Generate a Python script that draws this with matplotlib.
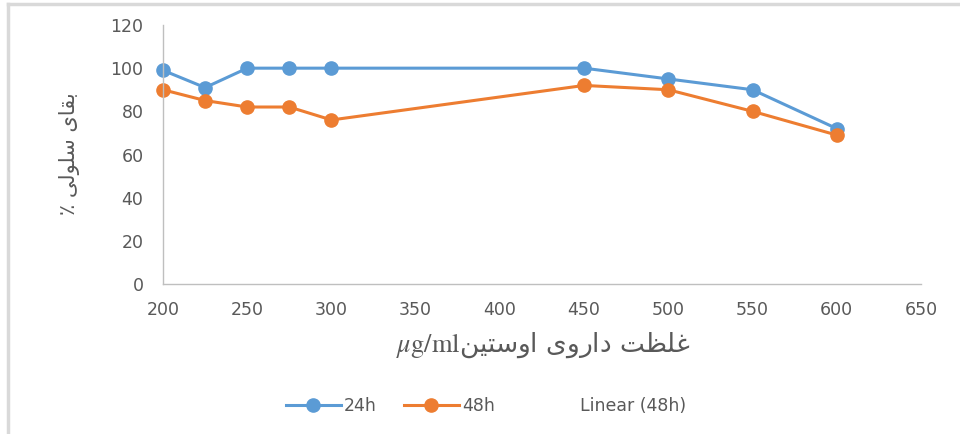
import matplotlib.pyplot as plt
from matplotlib.lines import Line2D

# concentration (ug/ml) and cell viability (%)
dose = [200, 225, 250, 275, 300, 450, 500, 550, 600]
viab_24h = [99, 91, 100, 100, 100, 100, 95, 90, 72]
viab_48h = [90, 85, 82, 82, 76, 92, 90, 80, 69]

x_ticks = [200, 250, 300, 350, 400, 450, 500, 550, 600, 650]
y_ticks = [0, 20, 40, 60, 80, 100, 120]

# persian labels, pre-shaped (presentation forms, visual order)
# "بقای سلولی ٪"
y_label = '\u066A ' + '\uFEF0\uFEDF\uFEEE\uFEE0\uFEB3' + ' ' + '\uFEEF\uFE8E\uFED8\uFE91'
# "غلظت داروی اوستین"
x_label_fa = ('\uFEE6\uFEF4\uFE98\uFEB3\uFEED\uFE8D' + ' ' +
              '\uFEEF\uFEED\uFEAD\uFE8D\uFEA9' + ' ' +
              '\uFE96\uFEC8\uFEE0\uFECF')

blue = '#5B9BD5'
orange = '#ED7D31'
grey_txt = '#595959'

plt.rcParams['font.family'] = ['DejaVu Sans']
plt.rcParams['mathtext.fontset'] = 'stix'

fig = plt.figure(figsize=(9.6, 4.34), dpi=100)
ax = fig.add_axes([163 / 960, 1 - 284 / 434, (921 - 163) / 960, (284 - 25) / 434])

ax.plot(dose, viab_24h, color=blue, lw=2.2, marker='o', ms=9.5, label='24h', clip_on=False)
ax.plot(dose, viab_48h, color=orange, lw=2.2, marker='o', ms=9.5, label='48h', clip_on=False)

ax.set_xlim(200, 650)
ax.set_ylim(0, 120)
ax.set_xticks(x_ticks)
ax.set_yticks(y_ticks)
ax.tick_params(axis='x', length=0, labelsize=12.5, labelcolor=grey_txt, pad=12)
ax.tick_params(axis='y', length=0, labelsize=12.5, labelcolor=grey_txt, pad=14)

for s in ['top', 'right']:
    ax.spines[s].set_visible(False)
for s in ['left', 'bottom']:
    ax.spines[s].set_color('#bfbfbf')
    ax.spines[s].set_linewidth(1.0)

fig.text(70 / 960, 1 - 154 / 434, y_label, rotation=90, ha='center', va='center',
         fontsize=15, color=grey_txt)
fig.text(543 / 960, 1 - 345 / 434, r'$\mathit{\mu}\mathrm{g/ml}$' + x_label_fa,
         ha='center', va='center', fontsize=19, color=grey_txt)

# legend: trendline entry has no visible line
handles = [Line2D([], [], color=blue, lw=2.2, marker='o', ms=9.5),
           Line2D([], [], color=orange, lw=2.2, marker='o', ms=9.5),
           Line2D([], [], color='none')]
leg = fig.legend(handles, ['24h', '48h', 'Linear (48h)'], loc='center',
                 bbox_to_anchor=(486 / 960, 1 - 406 / 434), ncol=3, frameon=False,
                 handlelength=3.15, columnspacing=1.55, handletextpad=0.2,
                 prop={'size': 12.5})
for t in leg.get_texts():
    t.set_color(grey_txt)

# chart border (top and left only)
fig.add_artist(Line2D([8 / 960, 1], [1 - 4 / 434, 1 - 4 / 434], color='#d9d9d9', lw=2.5))
fig.add_artist(Line2D([8 / 960, 8 / 960], [0, 1 - 4 / 434], color='#d9d9d9', lw=2.5))

fig.savefig('out.png', dpi=100, facecolor='white')
